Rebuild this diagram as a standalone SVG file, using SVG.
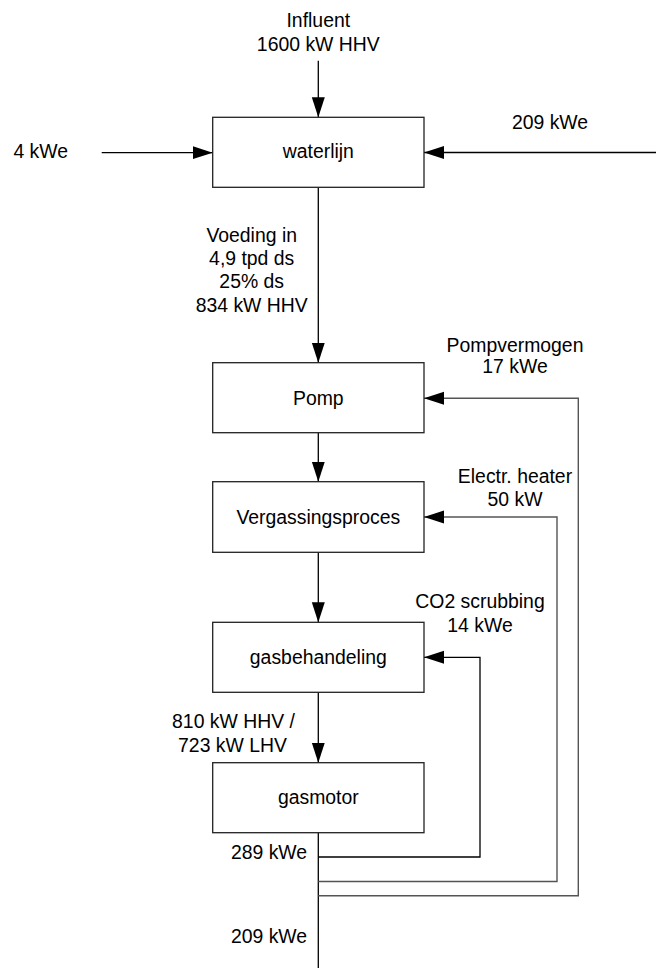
<svg xmlns="http://www.w3.org/2000/svg" width="656" height="968" viewBox="0 0 656 968">
<style>
text{font-family:"Liberation Sans",Arial,sans-serif;font-size:19.4px;fill:#000;text-anchor:middle}
.box{fill:#fff;stroke:#222;stroke-width:1.3}
.ln{fill:none;stroke:#000;stroke-width:1.3}
.fb{fill:none;stroke:#555;stroke-width:1.4}
</style>
<defs>
<marker id="ah" markerUnits="userSpaceOnUse" markerWidth="20" markerHeight="14" refX="20" refY="6.5" orient="auto">
<path d="M0,0 L20,6.5 L0,13 Z" fill="#000"/>
</marker>
</defs>
<g id="connectors">
<line class="ln" x1="318.3" y1="60.7" x2="318.3" y2="117.3" marker-end="url(#ah)"/>
<line class="ln" x1="101.7" y1="152.7" x2="212.7" y2="152.7" marker-end="url(#ah)"/>
<line class="ln" x1="656" y1="152.5" x2="424" y2="152.5" marker-end="url(#ah)"/>
<line class="ln" x1="318.3" y1="187.3" x2="318.3" y2="362.7" marker-end="url(#ah)"/>
<line class="ln" x1="318.3" y1="432.7" x2="318.3" y2="481.7" marker-end="url(#ah)"/>
<line class="ln" x1="318.3" y1="552.3" x2="318.3" y2="622.3" marker-end="url(#ah)"/>
<line class="ln" x1="318.3" y1="692.3" x2="318.3" y2="762.7" marker-end="url(#ah)"/>
<line class="ln" x1="318.3" y1="832.7" x2="318.3" y2="968"/>
<polyline class="ln" points="318.3,857 480,857 480,657.3 424,657.3" marker-end="url(#ah)"/>
<polyline class="fb" points="318.3,881.5 557,881.5 557,517 424,517" marker-end="url(#ah)"/>
<polyline class="fb" points="318.3,895.7 578.3,895.7 578.3,398.3 424,398.3" marker-end="url(#ah)"/>
</g>
<g id="waterlijn"><rect class="box" x="212.7" y="117.3" width="211.3" height="70"/><text x="318.3" y="158.3">waterlijn</text></g>
<g id="pomp"><rect class="box" x="212.7" y="362.7" width="211.3" height="70"/><text x="318.3" y="405">Pomp</text></g>
<g id="vergassingsproces"><rect class="box" x="212.7" y="481.7" width="211.3" height="70.6"/><text x="318.3" y="523.5">Vergassingsproces</text></g>
<g id="gasbehandeling"><rect class="box" x="212.7" y="622.3" width="211.3" height="70"/><text x="318.3" y="664">gasbehandeling</text></g>
<g id="gasmotor"><rect class="box" x="212.7" y="762.7" width="211.3" height="70"/><text x="318.3" y="803.5">gasmotor</text></g>
<g id="labels">
<text x="318.3" y="26.7">Influent</text>
<text x="318.3" y="50.7">1600 kW HHV</text>
<text x="40.7" y="158.3">4 kWe</text>
<text x="550" y="129.3">209 kWe</text>
<text x="251.7" y="241.7">Voeding in</text>
<text x="251.7" y="265">4,9 tpd ds</text>
<text x="251.7" y="288.3">25% ds</text>
<text x="251.7" y="311.7">834 kW HHV</text>
<text x="515" y="351.7">Pompvermogen</text>
<text x="515" y="373.3">17 kWe</text>
<text x="515" y="482.7">Electr. heater</text>
<text x="515" y="506">50 kW</text>
<text x="480" y="608.3">CO2 scrubbing</text>
<text x="480" y="631.7">14 kWe</text>
<text x="233.5" y="728">810 kW HHV /</text>
<text x="232.5" y="751.7">723 kW LHV</text>
<text x="269" y="859.3">289 kWe</text>
<text x="269" y="943.3">209 kWe</text>
</g>
</svg>
